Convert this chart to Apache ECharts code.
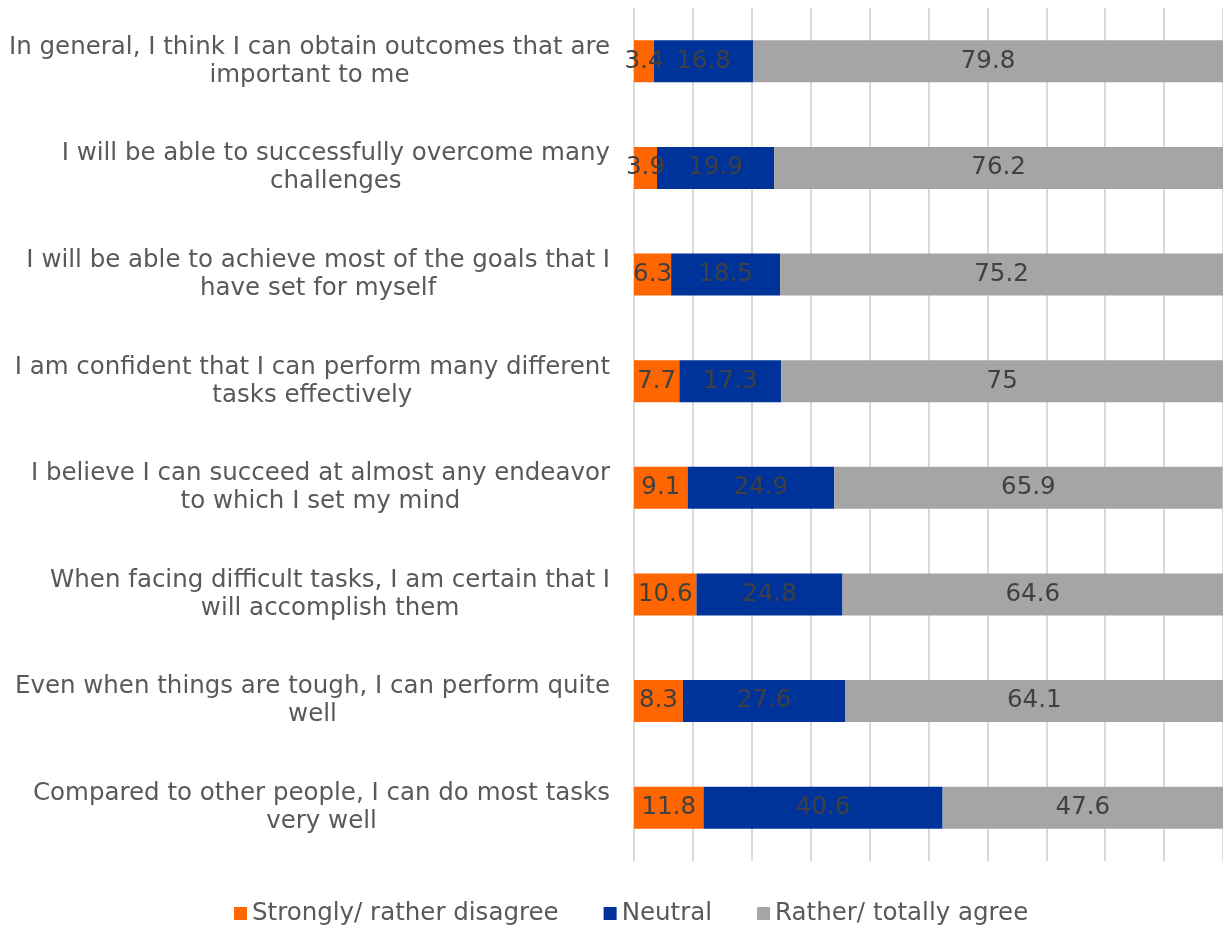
<!DOCTYPE html>
<html>
<head>
<meta charset="utf-8">
<script src="https://cdn.jsdelivr.net/npm/echarts@6/dist/echarts.min.js"></script>
<style>
  html, body { margin: 0; padding: 0; background: #ffffff; }
  #chart { width: 1223px; height: 929px; }
</style>
</head>
<body>
<div id="chart"></div>
<script>
// Survey statements (two display lines each)
const statements = [
  'In general, I think I can obtain outcomes that are\nimportant to me',
  'I will be able to successfully overcome many\nchallenges',
  'I will be able to achieve most of the goals that I\nhave set for myself',
  'I am confident that I can perform many different\ntasks effectively',
  'I believe I can succeed at almost any endeavor\nto which I set my mind',
  'When facing difficult tasks, I am certain that I\nwill accomplish them',
  'Even when things are tough, I can perform quite\nwell',
  'Compared to other people, I can do most tasks\nvery well'
];

const seriesNames = ['Strongly/ rather disagree', 'Neutral', 'Rather/ totally agree'];

// Shares of respondents (%)
const disagree = [3.4, 3.9, 6.3, 7.7, 9.1, 10.6, 8.3, 11.8];
const neutral  = [16.8, 19.9, 18.5, 17.3, 24.9, 24.8, 27.6, 40.6];
const agree    = [79.8, 76.2, 75.2, 75, 65.9, 64.6, 64.1, 47.6];

const colors = ['#FF6600', '#003399', '#A5A5A5'];
const FONT = '"DejaVu Sans", Verdana, sans-serif';
const FONT_SIZE = 24.5;

const chart = echarts.init(document.getElementById('chart'), null, { renderer: 'canvas' });

function barSeries(name, data, color) {
  return {
    name: name,
    type: 'bar',
    stack: 'total',
    data: data,
    barWidth: 42,
    itemStyle: { color: color },
    label: {
      show: true,
      position: 'inside',
      color: '#404040',
      fontFamily: FONT,
      fontSize: FONT_SIZE
    },
    emphasis: { disabled: true }
  };
}

chart.setOption({
  animation: false,
  grid: { left: 634, right: 0, top: 8, bottom: 68, containLabel: false },
  legend: {
    data: seriesNames,
    left: 234,
    top: 901,
    padding: 0,
    itemWidth: 13,
    itemHeight: 13,
    itemGap: 45,
    icon: 'rect',
    textStyle: { color: '#595959', fontFamily: FONT, fontSize: FONT_SIZE }
  },
  xAxis: {
    type: 'value',
    min: 0,
    max: 100,
    interval: 10,
    axisLabel: { show: false },
    axisTick: { show: false },
    axisLine: { show: false },
    splitLine: { show: true, lineStyle: { color: '#D9D9D9', width: 2 } }
  },
  yAxis: {
    type: 'category',
    inverse: true,
    data: statements,
    axisLine: { show: false },
    axisTick: { show: false },
    axisLabel: {
      margin: 24,
      formatter: function (v) { return '{c|' + v + '}'; },
      rich: {
        c: {
          align: 'center',
          color: '#595959',
          fontFamily: FONT,
          fontSize: FONT_SIZE,
          lineHeight: 28
        }
      }
    }
  },
  series: [
    barSeries(seriesNames[0], disagree, colors[0]),
    barSeries(seriesNames[1], neutral, colors[1]),
    barSeries(seriesNames[2], agree, colors[2])
  ]
});
</script>
</body>
</html>
